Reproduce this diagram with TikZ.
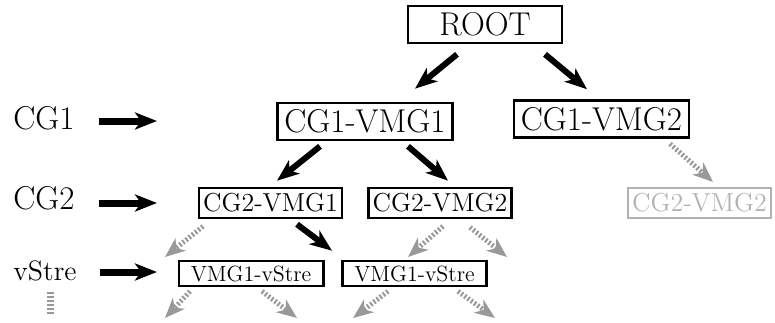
\documentclass[tikz,border=0pt]{standalone}
\usetikzlibrary{arrows.meta}
\begin{document}
\begin{tikzpicture}[
  x=0.5pt, y=-0.5pt,
  box/.style={draw, line width=1.3pt, inner ysep=0pt},
  bigbox/.style={box, font=\fontsize{16.5}{17}\selectfont, inner xsep=3.5pt, minimum height=18.5pt},
  midbox/.style={box, font=\fontsize{13}{13}\selectfont, inner xsep=2pt, minimum height=15pt},
  smallbox/.style={box, font=\fontsize{11}{11}\selectfont, inner xsep=6pt, minimum height=12.5pt},
  ghost/.style={midbox, draw=black!30, text=black!30, line width=1pt},
  lbl/.style={font=\fontsize{16.5}{17}\selectfont},
  e/.style={-{Stealth[length=11pt,width=8.5pt,inset=3pt]}, line width=3pt},
  ge/.style={-{Stealth[length=10pt,width=8pt,inset=3pt]}, line width=2.5pt, black!40,
             dash pattern=on 1pt off 1pt},
  gline/.style={line width=3.5pt, black!40, dash pattern=on 1pt off 1pt}
]
\useasboundingbox (0,0) rectangle (775,322);

% Tree of groups, one row per level.
\node[bigbox, minimum width=77pt] (root) at (485,24.5) {ROOT};
\node[bigbox] (cg1vmg1) at (365,121.5) {CG1-VMG1};
\node[bigbox] (cg1vmg2) at (601.5,119) {CG1-VMG2};
\node[midbox] (cg2vmg1) at (270.5,203) {CG2-VMG1};
\node[midbox] (cg2vmg2) at (440,203) {CG2-VMG2};
\node[ghost]  (cg2vmg2g) at (699.5,203) {CG2-VMG2};
\node[smallbox] (vstre1) at (251,273.5) {VMG1-vStre};
\node[smallbox] (vstre2) at (414.5,273.5) {VMG1-vStre};

% Level captions on the left.
\node[lbl] (lcg1)   at (44,118) {CG1};
\node[lbl] (lcg2)   at (44,198) {CG2};
\node[lbl, font=\fontsize{14}{14}\selectfont] (lvstre) at (45,271) {vStre};

\coordinate (t1) at (157,121);
\coordinate (t2) at (157,203);
\coordinate (t3) at (157,272);
\draw[e, line width=3.5pt] ([shift={(17,3)}]lcg1.east)   -- (t1);
\draw[e, line width=3.5pt] ([shift={(17,5)}]lcg2.east)   -- (t2);
\draw[e, line width=3.5pt] ([shift={(16,1)}]lvstre.east) -- (t3);

\coordinate (vdots) at (50,292);
\draw[gline] (vdots) -- ++(0,23);

% Selected path (black).
\draw[e] ([shift={(-28,10)}]root.south)  -- ([shift={(50,-13)}]cg1vmg1.north);
\draw[e] ([shift={(60,10)}]root.south)   -- ([shift={(-14.5,-10)}]cg1vmg2.north);
\draw[e] ([shift={(-45,5)}]cg1vmg1.south) -- ([shift={(6.5,-6)}]cg2vmg1.north);
\draw[e] ([shift={(43,5)}]cg1vmg1.south)  -- ([shift={(8,-6)}]cg2vmg2.north);
\draw[e] ([shift={(26.5,5)}]cg2vmg1.south) -- ([shift={(-82.5,-9)}]vstre2.north);

% Branches not taken (grey, dotted) end in free coordinates.
\coordinate (g1) at (165,257);
\coordinate (g2) at (408,257);
\coordinate (g3) at (507,257);
\coordinate (g4) at (165,318);
\coordinate (g5) at (297,318);
\coordinate (g6) at (353,318);
\coordinate (g7) at (495,318);

\draw[ge] ([shift={(68.5,5)}]cg1vmg2.south) -- ([shift={(13.5,-5)}]cg2vmg2g.north);
\draw[ge] ([shift={(-67.5,7)}]cg2vmg1.south) -- (g1);
\draw[ge] ([shift={(3,7)}]cg2vmg2.south)  -- (g2);
\draw[ge] ([shift={(30,8)}]cg2vmg2.south) -- (g3);
\draw[ge] ([shift={(-61,4)}]vstre1.south) -- (g4);
\draw[ge] ([shift={(11,4)}]vstre1.south)  -- (g5);
\draw[ge] ([shift={(-26.5,4)}]vstre2.south) -- (g6);
\draw[ge] ([shift={(43.5,4)}]vstre2.south)  -- (g7);

\end{tikzpicture}
\end{document}
